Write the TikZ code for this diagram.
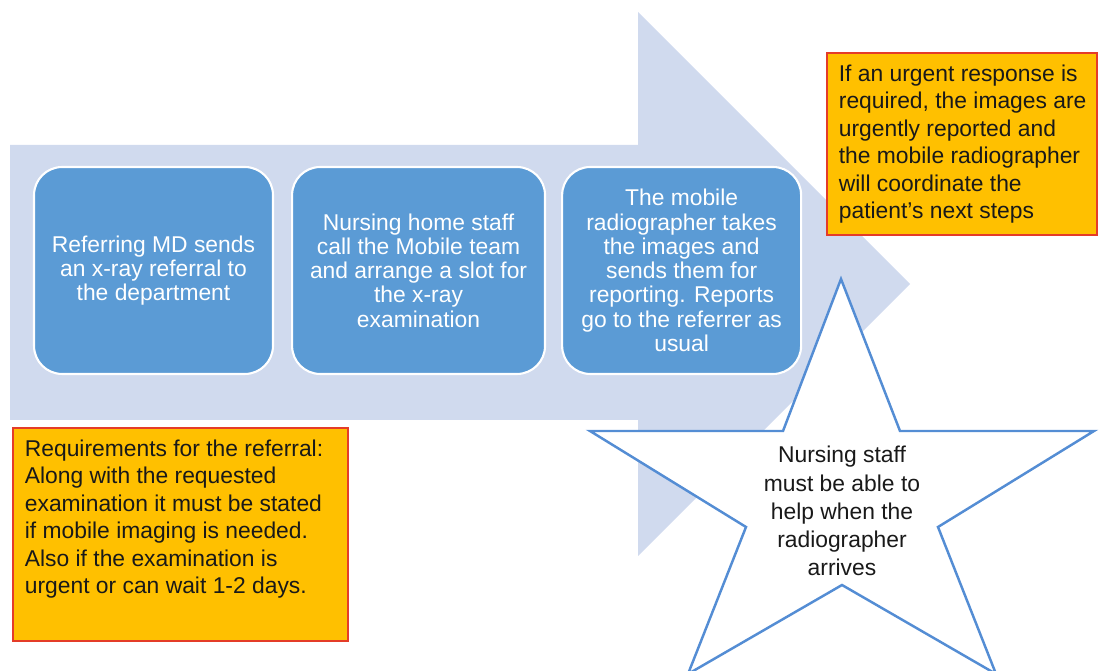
\documentclass[tikz,border=0pt]{standalone}
\usepackage{fontspec}
\setmainfont{Liberation Sans}
\usetikzlibrary{positioning}
\definecolor{arrowblue}{RGB}{208,218,238}
\definecolor{stepblue}{RGB}{91,155,213}
\definecolor{noteyellow}{RGB}{255,192,0}
\definecolor{notered}{RGB}{228,60,40}
\definecolor{starblue}{RGB}{84,141,212}

\begin{document}
\begin{tikzpicture}[x=0.02cm, y=-0.02cm,
  stepbox/.style={draw=white, line width=1.2pt, fill=stepblue, rounded corners=16pt,
    minimum width=4.78cm, minimum height=4.14cm, text=white, align=center,
    font=\fontsize{13}{13.8}\selectfont},
  notebox/.style={draw=notered, line width=0.9pt, fill=noteyellow, inner sep=0pt},
  notetext/.style={anchor=north west, align=left, inner sep=0pt, text=black!90,
    font=\fontsize{13}{15.7}\selectfont},
  starline/.style={draw=starblue, line width=1.4pt, fill=white, line join=miter},
  startext/.style={align=center, text=black!90, font=\fontsize{13}{16}\selectfont}]
\useasboundingbox (0,0) rectangle (1099,671);
% big process arrow behind the steps
\fill[arrowblue] (10,145) -- (638,145) -- (638,12) -- (910,284) -- (638,556) -- (638,420) -- (10,420) -- cycle;
% steps
\node[stepbox] (refer) at (153.5,270.5) {Referring MD sends\\an x-ray referral to\\the department};
\node[stepbox, minimum width=5.06cm, right=0.34cm of refer] (call) {Nursing home staff\\call the Mobile team\\and arrange a slot for\\the x-ray\\examination};
\node[stepbox, right=0.3cm of call] (images) {The mobile\\radiographer takes\\the images and\\sends them for\\reporting. Reports\\go to the referrer as\\usual};
% notes
\node[notebox, minimum width=5.4cm, minimum height=3.64cm] (urgent) at (962,144) {};
\node[notetext] (urgenttxt) at ([shift={(7pt,-6.8pt)}]urgent.north west) {If an urgent response is\\required, the images are\\urgently reported and\\the mobile radiographer\\will coordinate the\\patient’s next steps};
\node[notebox, minimum width=6.7cm, minimum height=4.26cm] (req) at (180.5,534.5) {};
\node[notetext] (reqtxt) at ([shift={(7pt,-6.8pt)}]req.north west) {Requirements for the referral:\\Along with the requested\\examination it must be stated\\if mobile imaging is needed.\\Also if the examination is\\urgent or can wait 1-2 days.};
% star
\draw[starline] (841,279) -- (900,431) -- (1094,431) -- (938,527) -- (996,674) -- (842,585)
  -- (688,674) -- (746,527) -- (590,431) -- (783,431) -- cycle;
\node[startext] (help) at (842,511) {Nursing staff\\must be able to\\help when the\\radiographer\\arrives};
\end{tikzpicture}
\end{document}
